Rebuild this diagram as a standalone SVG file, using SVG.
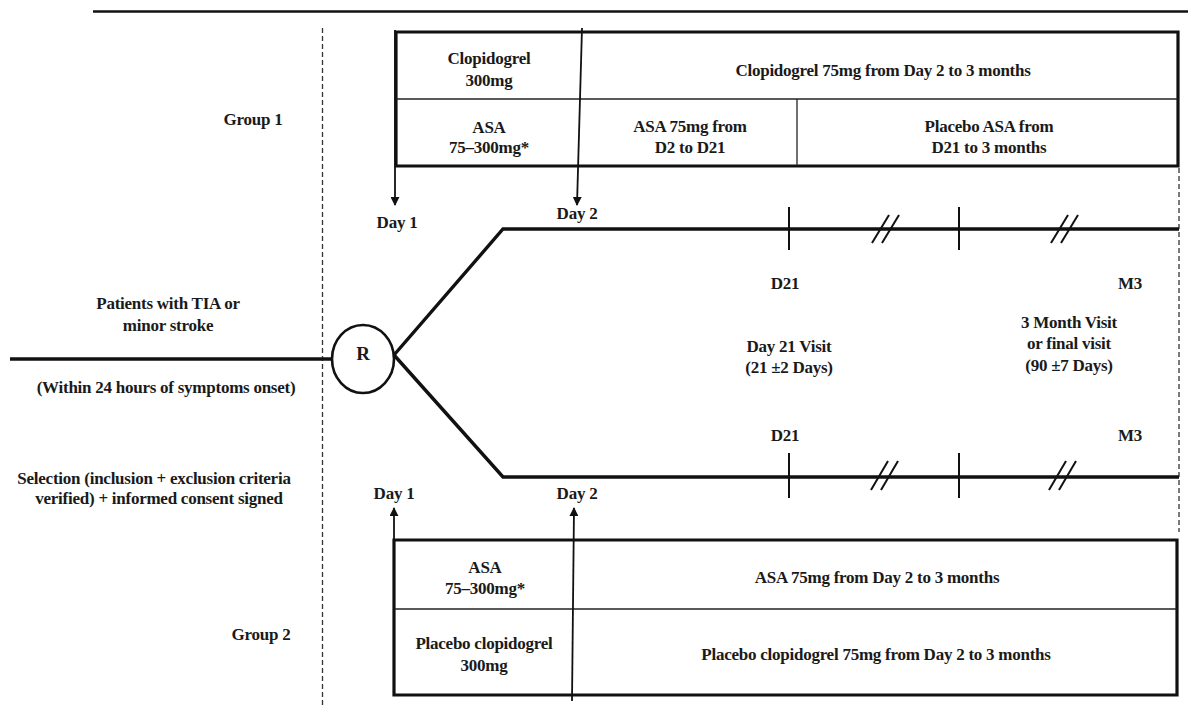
<svg xmlns="http://www.w3.org/2000/svg" width="1188" height="708" viewBox="0 0 1188 708">
<style>
text{font-family:"Liberation Serif","Times New Roman",serif;font-size:17px;font-weight:bold;fill:#1a1a1a;text-anchor:middle;dominant-baseline:central;letter-spacing:-0.25px}
.thick{stroke:#111;stroke-width:3.2;fill:none}
.thin{stroke:#222;stroke-width:1.3;fill:none}
.arrow{stroke:#111;stroke-width:1.8;fill:none}
.dash{stroke:#333;stroke-width:1.3;stroke-dasharray:5 3;fill:none}
.tl{stroke:#111;stroke-width:3.4;fill:none}
.tick{stroke:#111;stroke-width:2;fill:none}
</style>
<defs>
<marker id="ah" viewBox="0 0 10 10" refX="9" refY="5" markerWidth="9" markerHeight="9" markerUnits="userSpaceOnUse" orient="auto">
<path d="M0,0 L10,5 L0,10 z" fill="#111"/>
</marker>
</defs>
<rect width="1188" height="708" fill="#fff"/>
<line x1="93" y1="11.5" x2="1188" y2="11.5" stroke="#111" stroke-width="2.5"/>
<g id="guides">
<line class="dash" x1="322.5" y1="28" x2="322.5" y2="708"/>
<line class="dash" x1="1179" y1="168" x2="1179" y2="532"/>
</g>
<g id="left-labels">
<text x="253" y="119">Group 1</text>
<text x="168" y="303">Patients with TIA or</text>
<text x="168" y="325">minor stroke</text>
<text x="166" y="387">(Within 24 hours of symptoms onset)</text>
<text x="154" y="478">Selection (inclusion + exclusion criteria</text>
<text x="159" y="498">verified) + informed consent signed</text>
<text x="261" y="634">Group 2</text>
</g>
<g id="group1-table">
<path class="thick" d="M396,32 H1178 V166 H396 Z"/>
<line class="thin" x1="396" y1="99" x2="1178" y2="99"/>
<line class="thin" x1="797" y1="99" x2="797" y2="166"/>
<text x="489" y="58">Clopidogrel</text>
<text x="489" y="80">300mg</text>
<text x="489" y="127">ASA</text>
<text x="489" y="147">75–300mg*</text>
<text x="883" y="70">Clopidogrel 75mg from Day 2 to 3 months</text>
<text x="690" y="126">ASA 75mg from</text>
<text x="690" y="147">D2 to D21</text>
<text x="989" y="126">Placebo ASA from</text>
<text x="989" y="147">D21 to 3 months</text>
</g>
<g id="group2-table">
<path class="thick" d="M394,540 H1177 V695 H394 Z"/>
<line class="thin" x1="394" y1="609" x2="1177" y2="609"/>
<text x="485" y="567">ASA</text>
<text x="485" y="588">75–300mg*</text>
<text x="484" y="643">Placebo clopidogrel</text>
<text x="484" y="665">300mg</text>
<text x="877" y="577">ASA 75mg from Day 2 to 3 months</text>
<text x="876" y="654">Placebo clopidogrel 75mg from Day 2 to 3 months</text>
</g>
<g id="randomisation">
<ellipse cx="363" cy="359" rx="31" ry="34" fill="#fff" stroke="#111" stroke-width="2.6"/>
<text x="363" y="353" style="font-size:19px">R</text>
</g>
<g id="timeline-labels">
<text x="397" y="222">Day 1</text>
<text x="577" y="213">Day 2</text>
<text x="785" y="283">D21</text>
<text x="1130" y="283">M3</text>
<text x="789" y="346">Day 21 Visit</text>
<text x="789" y="367">(21 ±2 Days)</text>
<text x="1069" y="322">3 Month Visit</text>
<text x="1069" y="343">or final visit</text>
<text x="1069" y="365">(90 ±7 Days)</text>
<text x="785" y="435">D21</text>
<text x="1130" y="435">M3</text>
<text x="394" y="493">Day 1</text>
<text x="577" y="493">Day 2</text>
</g>
<g id="connectors">
<line class="tl" x1="10" y1="359" x2="332" y2="359"/>
<polyline class="tl" points="394,355 503,229 1179,229"/>
<polyline class="tl" points="394,355 503,477 1179,477"/>
<line class="tick" x1="789" y1="207" x2="789" y2="250"/>
<line class="tick" x1="959" y1="207" x2="959" y2="250"/>
<line class="tick" x1="789" y1="453" x2="789" y2="498"/>
<line class="tick" x1="959" y1="453" x2="959" y2="498"/>
<g stroke="#111" stroke-width="2">
<line x1="872" y1="243" x2="889" y2="215"/><line x1="882" y1="243" x2="899" y2="215"/>
<line x1="1051" y1="243" x2="1068" y2="215"/><line x1="1061" y1="243" x2="1078" y2="215"/>
<line x1="871" y1="490" x2="888" y2="461"/><line x1="881" y1="490" x2="898" y2="461"/>
<line x1="1049" y1="490" x2="1066" y2="461"/><line x1="1059" y1="490" x2="1076" y2="461"/>
</g>
<line class="arrow" x1="395" y1="30" x2="395" y2="205" marker-end="url(#ah)"/>
<line class="arrow" x1="582" y1="28" x2="577" y2="205" marker-end="url(#ah)"/>
<line class="arrow" x1="394" y1="692" x2="394" y2="508" marker-end="url(#ah)"/>
<line class="arrow" x1="572" y1="701" x2="574" y2="508" marker-end="url(#ah)"/>
</g>
</svg>
